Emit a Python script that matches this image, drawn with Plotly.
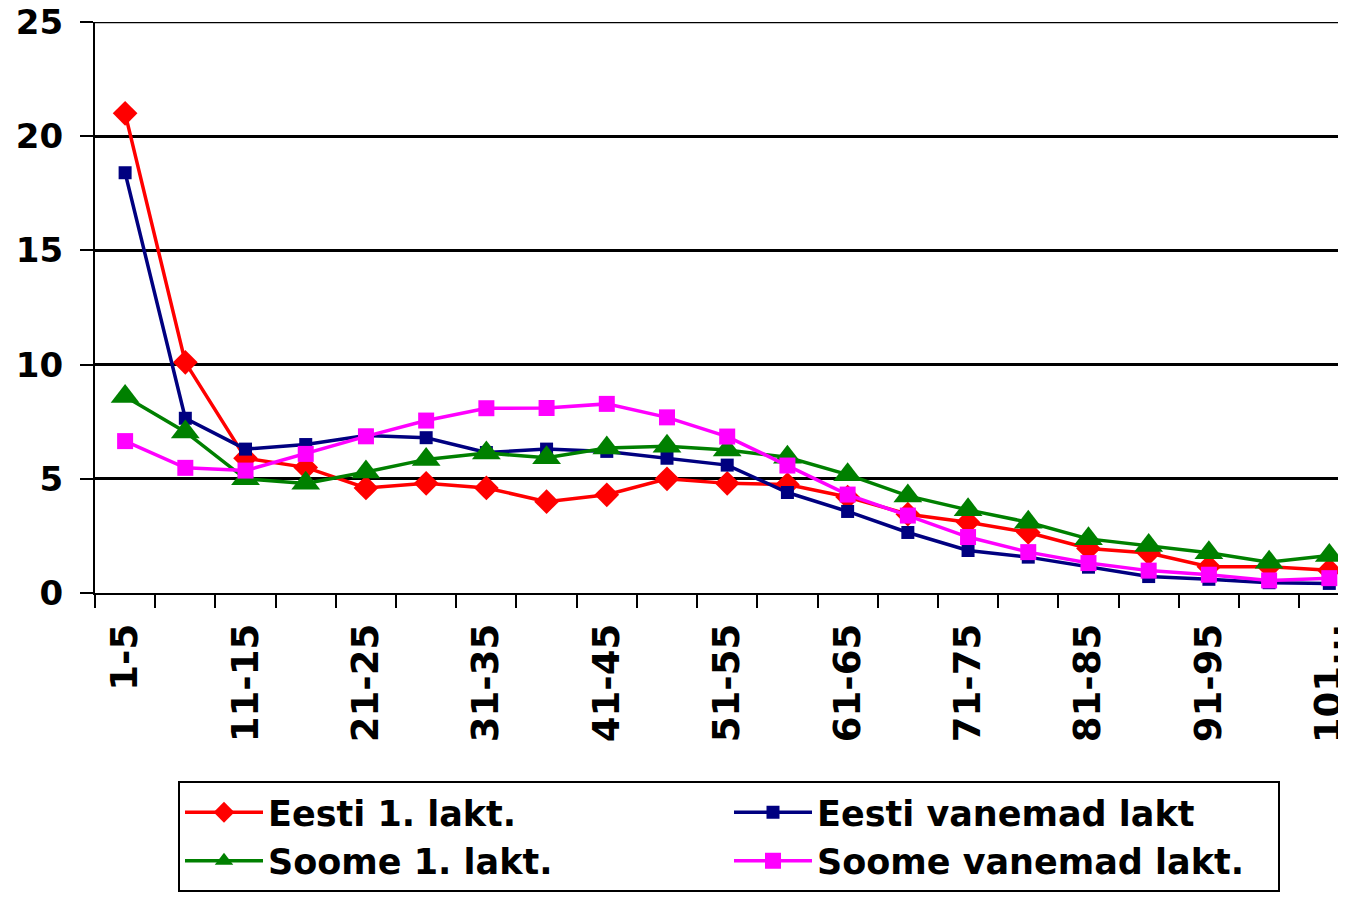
import plotly.graph_objects as go

categories = ["1-5", "6-10", "11-15", "16-20", "21-25", "26-30", "31-35", "36-40",
              "41-45", "46-50", "51-55", "56-60", "61-65", "66-70", "71-75", "76-80",
              "81-85", "86-90", "91-95", "96-100", "101..."]

eesti_1 = [21.0, 10.1, 5.9, 5.5, 4.6, 4.8, 4.6, 4.0, 4.3, 5.0, 4.8, 4.75, 4.2,
           3.45, 3.1, 2.65, 1.95, 1.75, 1.15, 1.15, 1.0]
eesti_van = [18.4, 7.65, 6.3, 6.5, 6.9, 6.8, 6.15, 6.3, 6.2, 5.9, 5.6, 4.4, 3.57,
             2.65, 1.86, 1.57, 1.13, 0.72, 0.6, 0.45, 0.42]
soome_1 = [8.6, 7.05, 5.0, 4.8, 5.3, 5.85, 6.13, 5.92, 6.35, 6.43, 6.26, 5.94, 5.18,
           4.25, 3.64, 3.1, 2.37, 2.08, 1.76, 1.35, 1.64]
soome_van = [6.65, 5.48, 5.36, 6.09, 6.86, 7.55, 8.09, 8.1, 8.28, 7.69, 6.85, 5.58,
             4.31, 3.39, 2.45, 1.79, 1.31, 0.98, 0.8, 0.55, 0.65]

series_names = ["Eesti 1. lakt.", "Eesti vanemad lakt", "Soome 1. lakt.", "Soome vanemad lakt."]

tick_text = [c if i % 2 == 0 else "" for i, c in enumerate(categories)]
y_ticks = [0, 5, 10, 15, 20, 25]

FONT = "DejaVu Sans"

fig = go.Figure()
fig.add_trace(go.Scatter(x=categories, y=eesti_1, name=series_names[0], mode="lines+markers",
                         line=dict(color="#FF0000", width=3.5),
                         marker=dict(symbol="diamond", size=19, color="#FF0000")))
fig.add_trace(go.Scatter(x=categories, y=eesti_van, name=series_names[1], mode="lines+markers",
                         line=dict(color="#000080", width=3.5),
                         marker=dict(symbol="square", size=13, color="#000080")))
fig.add_trace(go.Scatter(x=categories, y=soome_1, name=series_names[2], mode="lines+markers",
                         line=dict(color="#008000", width=3.5),
                         marker=dict(symbol="triangle-up", size=25, color="#008000")))
fig.add_trace(go.Scatter(x=categories, y=soome_van, name=series_names[3], mode="lines+markers",
                         line=dict(color="#FF00FF", width=3.5),
                         marker=dict(symbol="square", size=16, color="#FF00FF")))

# top gridline (Plotly drops the gridline lying on the plot edge)
fig.add_shape(type="line", xref="paper", yref="y", x0=0, x1=1,
              y0=y_ticks[-1], y1=y_ticks[-1], line=dict(color="black", width=2.5),
              layer="below")

fig.update_layout(
    width=1346, height=897,
    margin=dict(l=87, r=0, t=14, b=312, autoexpand=False),
    paper_bgcolor="white", plot_bgcolor="white",
    font=dict(family=FONT, size=35, color="black"),
    showlegend=True,
    legend=dict(
        orientation="h", x=170 / 1346, xanchor="left", y=1 - 773 / 897, yanchor="top",
        xref="container", yref="container",
        bordercolor="black", borderwidth=2, bgcolor="white",
        font=dict(family=FONT, size=35, color="black", weight="bold"),
        entrywidth=456, entrywidthmode="pixels", itemwidth=78,
        tracegroupgap=0, traceorder="normal",
    ),
)
fig.update_xaxes(
    type="category", range=[-0.5, 20.41],
    tickmode="array", tickvals=categories, ticktext=tick_text,
    tickson="boundaries", ticks="outside", ticklen=13, tickwidth=2, tickcolor="black",
    tickangle=-90, tickfont=dict(family=FONT, size=37, color="black", weight="bold"),
    showline=True, linecolor="black", linewidth=2,
    showgrid=False, zeroline=False, ticklabelstandoff=14, ticklabeloverflow="allow",
)
fig.update_yaxes(
    range=[0, 25], tickmode="array", tickvals=y_ticks,
    ticks="outside", ticklen=13, tickwidth=2, tickcolor="black",
    tickfont=dict(family=FONT, size=34, color="black", weight="bold"),
    showline=True, linecolor="black", linewidth=2,
    showgrid=True, gridcolor="black", gridwidth=2.5, zeroline=False,
    ticklabelstandoff=10, ticklabeloverflow="allow",
)

fig.write_html("out.html")
